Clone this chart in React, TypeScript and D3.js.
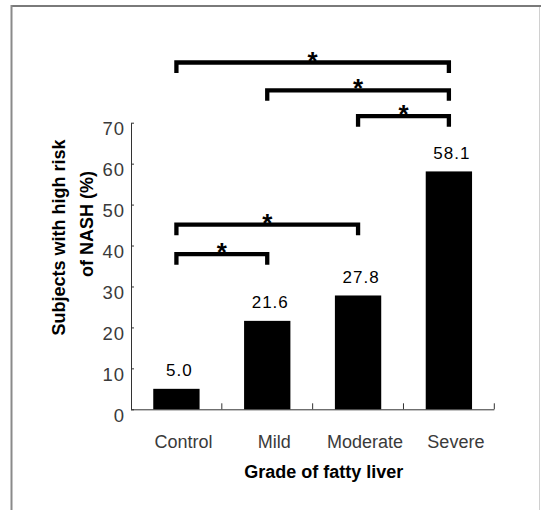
import React, { useEffect, useRef } from "react";
import * as d3 from "d3";

// chart data
const grades = ["Control", "Mild", "Moderate", "Severe"];
const highRiskPct = [5.0, 21.6, 27.8, 58.1];
const valueLabels = ["5.0", "21.6", "27.8", "58.1"];
const yTicks = [0, 10, 20, 30, 40, 50, 60, 70];

// significance brackets: from grade, to grade, height (in % units)
const bracketFrom = ["Control", "Mild", "Moderate", "Control", "Control"];
const bracketTo = ["Severe", "Severe", "Severe", "Moderate", "Mild"];
const bracketLevel = [84.7, 77.9, 71.6, 45.1, 37.9];

const W = 541;
const H = 510;
const FONT = "'Liberation Sans', Arial, sans-serif";

export default function App() {
  const ref = useRef<SVGSVGElement>(null);

  useEffect(() => {
    const svg = d3.select(ref.current);
    svg.selectAll("*").remove();

    // frame around the figure
    svg.append("line").attr("x1", 11).attr("x2", 541).attr("y1", 6).attr("y2", 6)
      .attr("stroke", "#7a7a7a").attr("stroke-width", 2);
    svg.append("line").attr("x1", 11.5).attr("x2", 11.5).attr("y1", 5).attr("y2", 510)
      .attr("stroke", "#8a8a8a").attr("stroke-width", 2);
    svg.append("line").attr("x1", 539.5).attr("x2", 539.5).attr("y1", 7).attr("y2", 510)
      .attr("stroke", "#d0d0d0").attr("stroke-width", 1);

    const x = d3.scaleBand<string>()
      .domain(grades)
      .range([131, 494.3])
      .paddingInner(0.49)
      .paddingOuter(0.245);

    const y = d3.scaleLinear().domain([0, 70]).range([409.3, 122.7]);

    const cx = (g: string) => (x(g) as number) + x.bandwidth() / 2;

    // y axis
    const yAxis = svg.append("g")
      .attr("transform", "translate(131,0)")
      .call(d3.axisLeft(y).tickValues(yTicks).tickSize(-3).tickSizeOuter(0));
    yAxis.select(".domain").attr("stroke", "#333");
    yAxis.selectAll(".tick line").attr("stroke", "#333");
    yAxis.selectAll(".tick text")
      .attr("x", -6)
      .attr("dy", 12)
      .attr("fill", "#3a3a3a")
      .style("font-family", FONT)
      .style("font-size", "18.5px")
      .style("letter-spacing", "1px");

    // x axis baseline with ticks at band boundaries
    const xAxis = svg.append("g");
    xAxis.append("line")
      .attr("x1", x.range()[0]).attr("x2", x.range()[1])
      .attr("y1", y(0) + 0.5).attr("y2", y(0) + 0.5)
      .attr("stroke", "#333");
    const gap = (x.step() - x.bandwidth()) / 2;
    const bounds = grades.slice(1).map((g) => (x(g) as number) - gap).concat([x.range()[1]]);
    xAxis.selectAll(".xtick")
      .data(bounds)
      .enter()
      .append("line")
      .attr("x1", (d) => d).attr("x2", (d) => d)
      .attr("y1", y(0)).attr("y2", y(0) - 6)
      .attr("stroke", "#333");
    xAxis.selectAll(".xlabel")
      .data(grades)
      .enter()
      .append("text")
      .attr("x", (d) => cx(d) + 7)
      .attr("y", 447.5)
      .attr("text-anchor", "middle")
      .attr("fill", "#3a3a3a")
      .style("font-family", FONT)
      .style("font-size", "18px")
      .text((d) => d);

    // bars
    svg.selectAll(".bar")
      .data(grades)
      .enter()
      .append("rect")
      .attr("x", (d) => x(d) as number)
      .attr("y", (d, i) => y(highRiskPct[i]))
      .attr("width", x.bandwidth())
      .attr("height", (d, i) => y(0) - y(highRiskPct[i]))
      .attr("fill", "#000");

    // value labels
    svg.selectAll(".val")
      .data(grades)
      .enter()
      .append("text")
      .attr("x", (d) => cx(d) + 3)
      .attr("y", (d, i) => y(highRiskPct[i]) - 12.5)
      .attr("text-anchor", "middle")
      .attr("fill", "#000")
      .style("font-family", FONT)
      .style("font-size", "17px")
      .style("letter-spacing", "1px")
      .text((d, i) => valueLabels[i]);

    // significance brackets
    const legDrop = 10.5;
    bracketLevel.forEach((lvl, i) => {
      const x1 = cx(bracketFrom[i]);
      const x2 = cx(bracketTo[i]);
      const yy = y(lvl);
      svg.append("path")
        .attr("d", `M${x1},${yy + legDrop}L${x1},${yy}L${x2},${yy}L${x2},${yy + legDrop}`)
        .attr("fill", "none")
        .attr("stroke", "#000")
        .attr("stroke-width", 4.3)
        .attr("stroke-linejoin", "miter");
      svg.append("text")
        .attr("x", (x1 + x2) / 2)
        .attr("y", yy + 7)
        .attr("text-anchor", "middle")
        .attr("fill", "#000")
        .style("font-family", FONT)
        .style("font-weight", "bold")
        .style("font-size", "26px")
        .text("*");
    });

    // axis titles
    const yTitle = [
      { text: "Subjects with high risk", bx: 65, cy: 237.5 },
      { text: "of NASH (%)", bx: 93, cy: 224 },
    ];
    yTitle.forEach((t) => {
      svg.append("text")
        .attr("transform", `translate(${t.bx},${t.cy}) rotate(-90)`)
        .attr("text-anchor", "middle")
        .attr("fill", "#000")
        .style("font-family", FONT)
        .style("font-weight", "bold")
        .style("font-size", "18px")
        .text(t.text);
    });

    svg.append("text")
      .attr("x", 323.7)
      .attr("y", 478.3)
      .attr("text-anchor", "middle")
      .attr("fill", "#000")
      .style("font-family", FONT)
      .style("font-weight", "bold")
      .style("font-size", "18px")
      .text("Grade of fatty liver");
  }, []);

  return (
    <svg
      ref={ref}
      width={W}
      height={H}
      style={{ position: "absolute", left: 0, top: 0, background: "#fff" }}
    />
  );
}
